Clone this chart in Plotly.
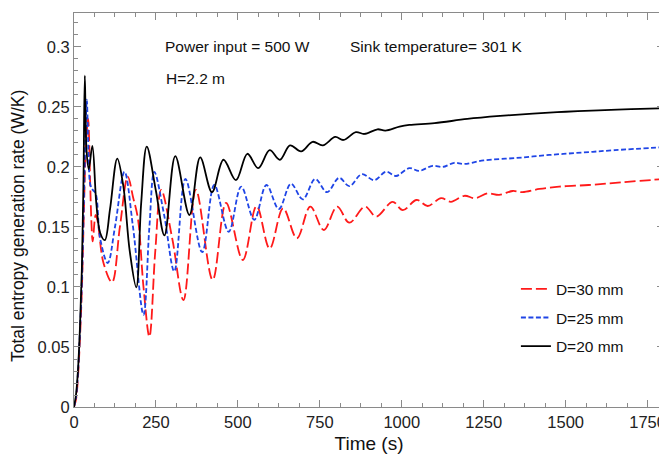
import plotly.graph_objects as go

# ---- data ----
t_20 = [0, 6, 12, 18, 24, 29, 33, 38, 45, 56, 68, 80, 94, 110, 132, 150, 170, 190, 205, 222,
        250, 276, 309, 352, 385, 421, 456, 494, 529, 562, 597, 628, 659, 693, 728, 759, 797, 822,
        860, 886, 926, 950, 993, 1023, 1100, 1200, 1300, 1400, 1500, 1600, 1700, 1800]
s_20 = [0, 0.01, 0.03, 0.065, 0.115, 0.19, 0.276, 0.215, 0.198, 0.2175, 0.17, 0.145, 0.139, 0.165,
        0.207, 0.185, 0.13, 0.0997, 0.17, 0.217, 0.18, 0.143, 0.209, 0.16, 0.208, 0.179, 0.206,
        0.189, 0.211, 0.199, 0.214, 0.206, 0.218, 0.213, 0.221, 0.218, 0.225, 0.2225, 0.229, 0.2275,
        0.2314, 0.2303, 0.2336, 0.235, 0.2365, 0.240, 0.2425, 0.2445, 0.246, 0.2472, 0.2482, 0.249]

t_25 = [0, 6, 12, 18, 24, 30, 35, 39, 44, 50, 57, 66, 80, 103, 125, 154, 180, 212, 230, 245,
        275, 306, 340, 391, 428, 472, 510, 550, 587, 625, 662, 698, 736, 772, 809, 840, 878, 916,
        952, 982, 1023, 1053, 1094, 1125, 1160, 1190, 1250, 1350, 1450, 1550, 1650, 1800]
s_25 = [0, 0.008, 0.028, 0.062, 0.105, 0.17, 0.225, 0.256, 0.215, 0.185, 0.181, 0.178, 0.14,
        0.12, 0.15, 0.196, 0.15, 0.0767, 0.15, 0.196, 0.16, 0.113, 0.19, 0.129, 0.185, 0.146,
        0.1836, 0.156, 0.185, 0.165, 0.186, 0.173, 0.19, 0.179, 0.191, 0.184, 0.194, 0.189, 0.196,
        0.1925, 0.199, 0.1967, 0.201, 0.200, 0.2035, 0.2025, 0.2055, 0.2075, 0.210, 0.212, 0.214,
        0.2165]

t_30 = [0, 6, 12, 18, 24, 30, 36, 43, 49, 53, 57, 66, 72, 90, 116, 140, 164, 180, 195, 212, 230,
        248, 266, 300, 334, 372, 423, 464, 515, 557, 597, 638, 680, 721, 762, 803, 840, 888, 922,
        972, 1003, 1045, 1079, 1120, 1150, 1191, 1224, 1262, 1297, 1338, 1368, 1420, 1480, 1570,
        1670, 1800]
s_30 = [0, 0.006, 0.024, 0.056, 0.098, 0.16, 0.215, 0.24, 0.19, 0.155, 0.138, 0.16, 0.155, 0.12,
        0.104, 0.15, 0.192, 0.175, 0.157, 0.1, 0.0586, 0.13, 0.181, 0.14, 0.089, 0.181, 0.106,
        0.17, 0.1225, 0.1675, 0.132, 0.1656, 0.1406, 0.167, 0.1475, 0.167, 0.1536, 0.167, 0.1586,
        0.171, 0.164, 0.1725, 0.1675, 0.174, 0.171, 0.176, 0.174, 0.178, 0.1767, 0.18, 0.179,
        0.1817, 0.1836, 0.185, 0.1872, 0.19]

series_names = ["D=30 mm", "D=25 mm", "D=20 mm"]
x_ticks = [0, 250, 500, 750, 1000, 1250, 1500, 1750]
y_ticks = [0, 0.05, 0.1, 0.15, 0.2, 0.25, 0.3]

FONT = "Liberation Sans, Arial, sans-serif"

fig = go.Figure()
fig.add_trace(go.Scatter(x=t_30, y=s_30, mode="lines", name=series_names[0], legendgroup="a",
                         line=dict(color="#ff1a1a", width=1.8, dash="11px,4px",
                                   shape="spline", smoothing=1.0)))
fig.add_trace(go.Scatter(x=t_25, y=s_25, mode="lines", name=series_names[1], legendgroup="b",
                         line=dict(color="#1f45e6", width=1.8, dash="5px,2.5px",
                                   shape="spline", smoothing=1.0)))
fig.add_trace(go.Scatter(x=t_20, y=s_20, mode="lines", name=series_names[2], legendgroup="c",
                         line=dict(color="#000000", width=1.8, shape="spline", smoothing=1.0)))

axis_common = dict(
    showline=True, linecolor="#8a8a8a", linewidth=1, mirror="allticks",
    ticks="inside", ticklen=7, tickcolor="#8a8a8a", tickwidth=1,
    showgrid=False, zeroline=False, automargin=False,
    tickfont=dict(family=FONT, size=16.5, color="#222222"),
)

fig.update_xaxes(range=[0, 1800], tickvals=x_ticks,
                 minor=dict(dtick=62.5, ticks="inside", ticklen=4, tickcolor="#8a8a8a", showgrid=False),
                 title=dict(text="Time (s)", font=dict(family=FONT, size=19, color="#111111"), standoff=6),
                 **axis_common)
fig.update_yaxes(range=[0, 0.3283], tickvals=y_ticks,
                 minor=dict(dtick=0.01, ticks="inside", ticklen=4, tickcolor="#8a8a8a", showgrid=False),
                 **axis_common)

# y-axis title placed as a rotated annotation (it sits a little below the plot centre)
fig.add_annotation(x=-0.095, y=0.459, xref="paper", yref="paper",
                   text="Total entropy generation rate (W/K)", textangle=-90, showarrow=False,
                   xanchor="center", yanchor="middle",
                   font=dict(family=FONT, size=17.5, color="#111111"))

ann_font = dict(family=FONT, size=15.5, color="#111111")
fig.add_annotation(x=273, y=0.300, xref="x", yref="y", text="Power input = 500 W", showarrow=False,
                   xanchor="left", yanchor="middle", font=ann_font)
fig.add_annotation(x=837, y=0.300, xref="x", yref="y", text="Sink temperature= 301 K", showarrow=False,
                   xanchor="left", yanchor="middle", font=ann_font)
fig.add_annotation(x=276, y=0.274, xref="x", yref="y", text="H=2.2 m", showarrow=False,
                   xanchor="left", yanchor="middle", font=ann_font)

# the page adds an 8px body margin, so the figure is sized to the visible window area
fig.update_layout(
    width=659, height=454,
    margin=dict(l=66, r=3, t=5, b=55),
    paper_bgcolor="white", plot_bgcolor="white",
    showlegend=True,
    legend=dict(x=0.749, y=0.342, xanchor="left", yanchor="top", traceorder="grouped",
                tracegroupgap=5.5, bgcolor="rgba(0,0,0,0)",
                font=dict(family=FONT, size=15.5, color="#111111")),
)

fig.write_html("out.html")
